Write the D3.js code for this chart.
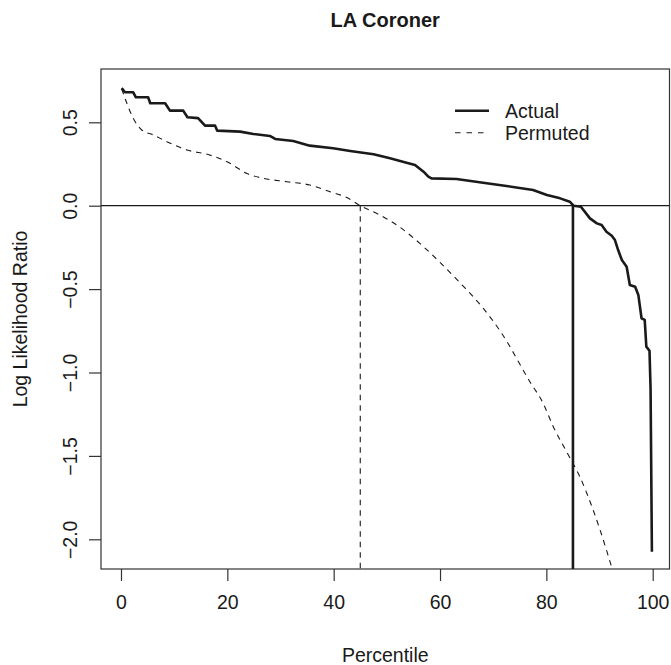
<!DOCTYPE html>
<html>
<head>
<meta charset="utf-8">
<script src="https://cdn.jsdelivr.net/npm/d3@7"></script>
<style>
  html, body { margin: 0; padding: 0; background: #fff; }
  svg { display: block; }
  text { font-family: "Liberation Sans", Arial, Helvetica, sans-serif; fill: #1a1a1a; }
</style>
</head>
<body>
<svg id="chart" width="671" height="665"></svg>
<script>
// Sorted log likelihood ratios against percentile, for actual and permuted labels
const actualPct = [0.13, 0.75, 2.3, 2.8, 5.1, 5.5, 8.3, 9.2, 11.7, 12.5, 14.5, 15.8, 17.7, 18.1,
  22.4, 24.9, 28.0, 29.0, 32.4, 35.5, 39.9, 43.1, 47.5, 50.6, 53.7, 55.3, 56.9, 57.8, 58.4,
  63.1, 68.1, 72.5, 77.5, 80.1, 82.6, 84.4, 85.1, 86.5, 88.2, 89.5, 90.4, 91.3, 92.3, 92.9,
  93.5, 94.2, 95.1, 95.7, 96.7, 97.3, 97.9, 98.5, 98.8, 99.4, 99.6, 99.85];
const actualLLR = [0.705, 0.68, 0.68, 0.65, 0.65, 0.614, 0.614, 0.57, 0.57, 0.53, 0.525, 0.48, 0.48, 0.45,
  0.444, 0.43, 0.418, 0.40, 0.388, 0.36, 0.344, 0.328, 0.308, 0.284, 0.258, 0.244, 0.204, 0.174, 0.164,
  0.16, 0.138, 0.118, 0.094, 0.064, 0.044, 0.024, 0.0, -0.006, -0.076, -0.106, -0.116, -0.156, -0.18, -0.206,
  -0.266, -0.326, -0.366, -0.475, -0.486, -0.535, -0.675, -0.685, -0.845, -0.87, -1.1, -2.074];

const permutedPct = [0.13, 1.1, 2.3, 3.9, 6.1, 8.6, 12.4, 16.7, 20.5, 23.6, 26.8, 31.2, 35.5, 39.3,
  42.4, 45.0, 48.7, 52.5, 56.9, 60.0, 64.0, 68.0, 71.6, 76.9, 79.4, 81.3, 83.8, 86.3, 88.8, 91.3, 92.4];
const permutedLLR = [0.70, 0.614, 0.524, 0.454, 0.424, 0.384, 0.334, 0.304, 0.254, 0.194, 0.164, 0.144,
  0.124, 0.084, 0.05, 0.0, -0.056, -0.13, -0.246, -0.34, -0.47, -0.61, -0.765, -1.055, -1.185, -1.325,
  -1.475, -1.625, -1.824, -2.064, -2.18];

// Percentile where each curve crosses zero
const actualCut = 85;
const permutedCut = 45;

const xTicks = [0, 20, 40, 60, 80, 100];
const yTicks = [-2.0, -1.5, -1.0, -0.5, 0.0, 0.5];
const seriesNames = ["Actual", "Permuted"];

const box = { left: 101, top: 69, right: 669.5, bottom: 569 };

const x = d3.scaleLinear().domain([0, 100]).range([121, 652.7]);
const y = d3.scaleLinear().domain([-2, 0.5]).range([539.3, 122.3]);
const yMin = y.invert(box.bottom);

const svg = d3.select("#chart");
const ink = "#1a1a1a";

svg.append("defs").append("clipPath").attr("id", "plotClip")
  .append("rect")
  .attr("x", box.left).attr("y", box.top)
  .attr("width", box.right - box.left).attr("height", box.bottom - box.top);

// Title
svg.append("text")
  .attr("x", (box.left + box.right) / 2).attr("y", 27)
  .attr("text-anchor", "middle")
  .style("font-size", "20px").style("font-weight", "bold")
  .text("LA Coroner");

// Axes
const xAxis = svg.append("g")
  .attr("transform", `translate(0,${box.bottom})`)
  .call(d3.axisBottom(x).tickValues(xTicks).tickFormat(d3.format("d")).tickSize(12).tickSizeOuter(0).tickPadding(14));
xAxis.select(".domain").remove();
xAxis.selectAll(".tick line").attr("stroke", "#333").attr("stroke-width", 1.2);
xAxis.selectAll(".tick text").style("font-size", "19.5px").attr("fill", ink);

const yAxis = svg.append("g")
  .attr("transform", `translate(${box.left},0)`)
  .call(d3.axisLeft(y).tickValues(yTicks).tickFormat(d3.format(".1f")).tickSize(12).tickSizeOuter(0));
yAxis.select(".domain").remove();
yAxis.selectAll(".tick line").attr("stroke", "#333").attr("stroke-width", 1.2);
yAxis.selectAll(".tick text")
  .attr("x", 0).attr("y", -24).attr("dy", null)
  .attr("transform", "rotate(-90)")
  .attr("text-anchor", "middle")
  .style("font-size", "19.5px").attr("fill", ink)
  .text(d => d3.format(".1f")(d).replace("-", "\u2212"));

// Axis titles
svg.append("text")
  .attr("x", (box.left + box.right) / 2).attr("y", 662)
  .attr("text-anchor", "middle")
  .style("font-size", "19.5px")
  .text("Percentile");

svg.append("text")
  .attr("transform", `translate(27,${(box.top + box.bottom) / 2}) rotate(-90)`)
  .attr("text-anchor", "middle")
  .style("font-size", "19.5px")
  .text("Log Likelihood Ratio");

// Plot frame
svg.append("rect")
  .attr("x", box.left).attr("y", box.top)
  .attr("width", box.right - box.left).attr("height", box.bottom - box.top)
  .attr("fill", "none").attr("stroke", "#333").attr("stroke-width", 1.2);

const plot = svg.append("g").attr("clip-path", "url(#plotClip)");

// Zero reference line
plot.append("line")
  .attr("x1", box.left).attr("x2", box.right)
  .attr("y1", y(0)).attr("y2", y(0))
  .attr("stroke", ink).attr("stroke-width", 1.3);

// Curves
const actual = actualPct.map((p, i) => [p, actualLLR[i]]);
const permuted = permutedPct.map((p, i) => [p, permutedLLR[i]]);

plot.append("path")
  .datum(permuted)
  .attr("d", d3.line().x(d => x(d[0])).y(d => y(d[1])).curve(d3.curveMonotoneX))
  .attr("fill", "none").attr("stroke", ink).attr("stroke-width", 1.1)
  .attr("stroke-dasharray", "5.5,5");

plot.append("path")
  .datum(actual)
  .attr("d", d3.line().x(d => x(d[0])).y(d => y(d[1])))
  .attr("fill", "none").attr("stroke", ink).attr("stroke-width", 2.6)
  .attr("stroke-linejoin", "round");

// Zero-crossing drop lines
plot.append("line")
  .attr("x1", x(permutedCut)).attr("x2", x(permutedCut))
  .attr("y1", y(0)).attr("y2", y(yMin))
  .attr("stroke", ink).attr("stroke-width", 1.1)
  .attr("stroke-dasharray", "5.5,5");

plot.append("line")
  .attr("x1", x(actualCut)).attr("x2", x(actualCut))
  .attr("y1", y(0)).attr("y2", y(yMin))
  .attr("stroke", ink).attr("stroke-width", 2.6);

// Legend
const legend = svg.append("g");
const legendRows = [
  { name: seriesNames[0], y: 110.7, width: 2.6, dash: null },
  { name: seriesNames[1], y: 132.7, width: 1.1, dash: "5.5,6" }
];
legendRows.forEach(r => {
  legend.append("line")
    .attr("x1", 455).attr("x2", 489)
    .attr("y1", r.y).attr("y2", r.y)
    .attr("stroke", ink).attr("stroke-width", r.width)
    .attr("stroke-dasharray", r.dash);
  legend.append("text")
    .attr("x", 505).attr("y", r.y + 6.8)
    .style("font-size", "19.5px")
    .text(r.name);
});
</script>
</body>
</html>
